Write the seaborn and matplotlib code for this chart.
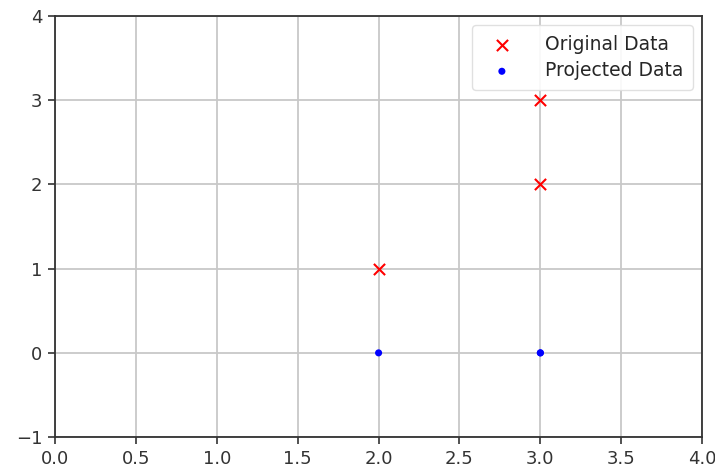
import matplotlib
matplotlib.use("Agg")
import matplotlib.pyplot as plt
import seaborn as sns
import pandas as pd

# Original points and their projections onto the x-axis
orig_x = [2, 3, 3]
orig_y = [1, 2, 3]
proj_x = [2, 3, 3]
proj_y = [0, 0, 0]

x_ticks = [0.0, 0.5, 1.0, 1.5, 2.0, 2.5, 3.0, 3.5, 4.0]
y_ticks = [-1, 0, 1, 2, 3, 4]

sns.set_style("white")
plt.rcParams["font.family"] = ["DejaVu Sans"]
plt.rcParams["font.size"] = 13

fig = plt.figure(figsize=(7.15, 4.69), dpi=100)
ax = fig.add_axes([0.077, 0.068, 0.905, 0.898])

orig = pd.DataFrame({"x": orig_x, "y": orig_y})
proj = pd.DataFrame({"x": proj_x, "y": proj_y})

sns.scatterplot(data=orig, x="x", y="y", marker="x", color="red", s=65,
                linewidth=1.5, label="Original Data", ax=ax, zorder=3)
sns.scatterplot(data=proj, x="x", y="y", marker="o", color="blue", s=26,
                edgecolor="none", label="Projected Data", ax=ax, zorder=3)

ax.set_xlim(0, 4)
ax.set_ylim(-1, 4)
ax.set_xticks(x_ticks)
ax.set_yticks(y_ticks)
ax.set_xlabel("")
ax.set_ylabel("")
ax.grid(True, color="#c8c8c8", linewidth=1.3)
ax.set_axisbelow(True)
for sp in ax.spines.values():
    sp.set_color("#333333")
    sp.set_linewidth(1.3)
ax.tick_params(axis="both", which="major", length=5, width=1.2, pad=4,
               color="#333333", labelsize=13, labelcolor="#333333",
               bottom=True, left=True)
ax.legend(loc="upper right", fontsize=13.5, frameon=True, framealpha=0.9,
          edgecolor="#dddddd", handlelength=2.2, handletextpad=1.2,
          borderpad=0.5, labelspacing=0.4)

fig.savefig("out.png", dpi=100)
